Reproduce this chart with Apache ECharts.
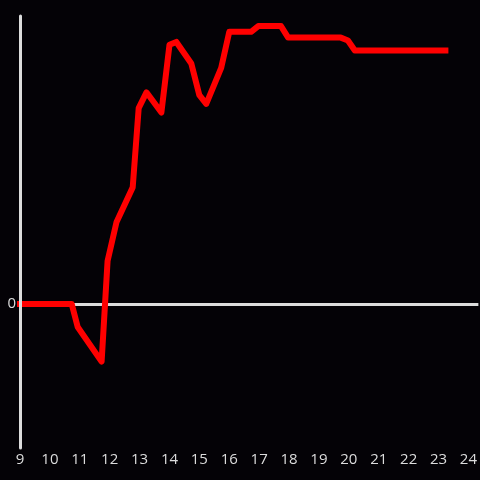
<!DOCTYPE html>
<html>
<head>
<meta charset="utf-8">
<script src="https://cdn.jsdelivr.net/npm/echarts@6/dist/echarts.min.js"></script>
<style>html,body{margin:0;padding:0;background:#040206;}#c{width:480px;height:480px;}</style>
</head>
<body>
<div id="c"></div>
<script>
// time in decimal hours
const hours = [9, 10.73, 10.93, 11.73, 11.93, 12.23, 12.77, 12.97, 13.23, 13.73, 14.0, 14.23, 14.73, 15.0, 15.23, 15.73, 16.0, 16.73, 16.97, 17.73, 17.97, 19.73, 19.97, 20.2, 20.73, 23.23];
const values = [0, 0, -0.16, -0.40, 0.30, 0.57, 0.81, 1.36, 1.47, 1.33, 1.80, 1.82, 1.67, 1.45, 1.39, 1.64, 1.89, 1.89, 1.93, 1.93, 1.85, 1.85, 1.83, 1.76, 1.76, 1.76];
const xTicks = [9,10,11,12,13,14,15,16,17,18,19,20,21,22,23,24];
const yTickLabels = ['0'];

const chart = echarts.init(document.getElementById('c'), null, {renderer: 'canvas'});
chart.setOption({
  backgroundColor: '#040206',
  animation: false,
  grid: {left: 20, right: 0, top: 16, bottom: 32, containLabel: false},
  xAxis: {
    type: 'value', min: 9, max: 24.333, interval: 1,
    axisLine: {show: false},
    axisTick: {show: false},
    splitLine: {show: false},
    axisLabel: {
      color: '#dcdcdc', fontSize: 15, fontFamily: 'Open Sans', margin: 4,
      showMaxLabel: false,
      formatter: v => xTicks.indexOf(v) >= 0 ? String(v) : ''
    }
  },
  yAxis: {
    type: 'value', min: -1, max: 2, interval: 1,
    axisLine: {show: true, onZero: false, lineStyle: {color: '#dcdcdc', width: 3}},
    axisTick: {show: false},
    splitLine: {show: false},
    axisLabel: {
      color: '#dcdcdc', fontSize: 15, fontFamily: 'Open Sans', margin: 4,
      formatter: v => yTickLabels.indexOf(String(v)) >= 0 ? String(v) : ''
    },
    z: 5
  },
  series: [{
    type: 'line',
    data: hours.map((h, i) => [h, values[i]]),
    showSymbol: false,
    lineStyle: {color: '#ff0000', width: 6, join: 'round', cap: 'square'},
    z: 3,
    markLine: {
      silent: true, symbol: 'none', label: {show: false},
      lineStyle: {color: '#dcdcdc', width: 3, type: 'solid'},
      data: [{yAxis: 0}],
      z: 1
    }
  }]
});
</script>
</body>
</html>
